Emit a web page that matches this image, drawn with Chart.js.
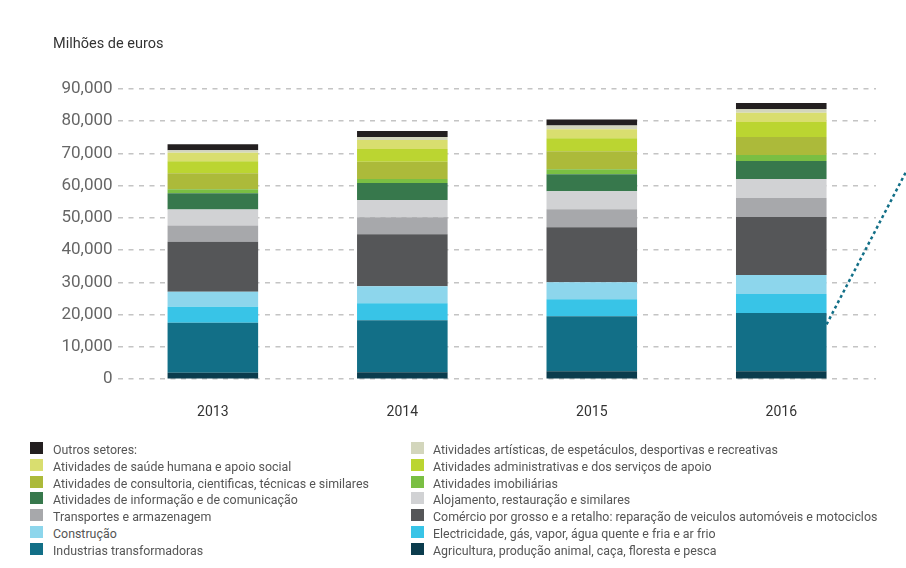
<!DOCTYPE html>
<html lang="pt">
<head>
<meta charset="utf-8">
<script src="https://cdn.jsdelivr.net/npm/chart.js@4.4.1/dist/chart.umd.min.js"></script>
<style>
  body { margin: 0; background: #fff; font-family: Roboto, sans-serif; }
  #wrap { position: relative; width: 906px; height: 568px; overflow: hidden; }
  #grafico { position: absolute; left: 0; top: 0; }
  #titulo { position: absolute; left: 53px; top: 35px; font-size: 14.5px; color: #333; }
  .item { position: absolute; font-size: 12.4px; color: #555; line-height: 16px; white-space: nowrap; }
  .item .cor { position: absolute; left: 0; top: 0; width: 13px; height: 12px; }
</style>
</head>
<body>
<div id="wrap">
  <canvas id="grafico" width="906" height="454"></canvas>
  <div id="titulo">Milhões de euros</div>
  <div id="legenda"></div>
</div>
<script>
    // Anos (categorias)
    var anos = ['2013', '2014', '2015', '2016'];

    // Valores por setor, milhões de euros
    var agricultura     = [2000, 2150, 2500, 2500];
    var industrias      = [15500, 16100, 17000, 18000];
    var electricidade   = [5000, 5300, 5300, 5900];
    var construcao      = [4650, 5300, 5300, 5900];
    var comercio        = [15500, 16100, 17000, 18000];
    var transportes     = [5000, 5300, 5600, 5900];
    var alojamento      = [5000, 5300, 5600, 5900];
    var informacao      = [5000, 5300, 5300, 5600];
    var imobiliarias    = [1250, 1250, 1500, 1850];
    var consultoria     = [5000, 5300, 5600, 5600];
    var administrativas = [3700, 4000, 4000, 4650];
    var saude           = [2600, 2800, 2800, 2800];
    var artisticas      = [830, 900, 1200, 1200];
    var outros          = [1850, 1850, 1850, 1850];

    // Nomes dos setores (ordem do empilhamento, de baixo para cima)
    var setores = [
        'Agricultura, produção animal, caça, floresta e pesca',
        'Industrias transformadoras',
        'Electricidade, gás, vapor, água quente e fria e ar frio',
        'Construção',
        'Comércio por grosso e a retalho: reparação de veiculos automóveis e motociclos',
        'Transportes e armazenagem',
        'Alojamento, restauração e similares',
        'Atividades de informação e de comunicação',
        'Atividades imobiliárias',
        'Atividades de consultoria, cientificas, técnicas e similares',
        'Atividades administrativas e dos serviços de apoio',
        'Atividades de saúde humana e apoio social',
        'Atividades artísticas, de espetáculos, desportivas e recreativas',
        'Outros setores:'
    ];
    var valores = [agricultura, industrias, electricidade, construcao, comercio, transportes,
        alojamento, informacao, imobiliarias, consultoria, administrativas, saude, artisticas, outros];

    // Marcas do eixo Y
    var ticksY = [0, 10000, 20000, 30000, 40000, 50000, 60000, 70000, 80000, 90000];

    // Cores
    var cores = ['#0b3c4d', '#126f87', '#38c4e7', '#8dd6ec', '#555658', '#a7a8ab', '#d1d2d4',
        '#37784c', '#7abf43', '#acba3a', '#bbd531', '#d9de6f', '#d3d6bc', '#231f20'];

    // Linha pontilhada de destaque (sai da barra de 2016)
    var linhaDestaque = {
        id: 'linhaDestaque',
        afterDatasetsDraw: function (chart) {
            var bar = chart.getDatasetMeta(1).data[3];
            var x0 = bar.x + bar.width / 2;
            var y0 = chart.scales.y.getPixelForValue(17000);
            var ctx = chart.ctx;
            ctx.save();
            ctx.strokeStyle = '#126f87';
            ctx.lineWidth = 2.5;
            ctx.setLineDash([3, 3]);
            ctx.beginPath();
            ctx.moveTo(x0, y0);
            ctx.lineTo(chart.width, y0 - (chart.width - x0) * 1.92);
            ctx.stroke();
            ctx.restore();
        }
    };

    var datasets = setores.map(function (nome, i) {
        return {
            label: nome,
            data: valores[i],
            backgroundColor: cores[i],
            borderWidth: 0,
            categoryPercentage: 1,
            barPercentage: 0.478
        };
    });

    var grafico = new Chart(document.getElementById('grafico'), {
        type: 'bar',
        data: { labels: anos, datasets: datasets },
        plugins: [linhaDestaque],
        options: {
            responsive: false,
            animation: false,
            layout: { padding: { left: 56, right: 30, top: 89, bottom: 8 } },
            plugins: { legend: { display: false }, tooltip: { enabled: false } },
            scales: {
                x: {
                    stacked: true,
                    grid: { display: false, drawTicks: false },
                    border: { display: false },
                    ticks: { color: '#333', font: { family: 'Roboto', size: 14 }, padding: 25 }
                },
                y: {
                    stacked: true,
                    min: 0,
                    max: 90000,
                    afterBuildTicks: function (axis) {
                        axis.ticks = ticksY.map(function (v) { return { value: v }; });
                    },
                    grid: { color: '#c4c4c4', lineWidth: 1.5, drawTicks: false },
                    border: { display: false, dash: [5, 5.5] },
                    ticks: {
                        color: '#666',
                        padding: 5.5,
                        font: { family: 'Roboto', size: 17 },
                        callback: function (v) { return v.toLocaleString('en-US'); }
                    }
                }
            }
        }
    });

    // Legenda em duas colunas (ordem inversa do empilhamento)
    var legenda = document.getElementById('legenda');
    setores.slice().reverse().forEach(function (nome, i) {
        var idx = setores.length - 1 - i;
        var linha = Math.floor(i / 2), coluna = i % 2;
        var item = document.createElement('div');
        item.className = 'item';
        item.style.left = (coluna ? 411 : 30) + 'px';
        item.style.top = (442 + linha * 16.75) + 'px';
        item.style.paddingLeft = (coluna ? 22 : 23) + 'px';
        item.innerHTML = '<span class="cor" style="background:' + cores[idx] + '"></span>' + nome;
        legenda.appendChild(item);
    });
</script>
</body>
</html>
